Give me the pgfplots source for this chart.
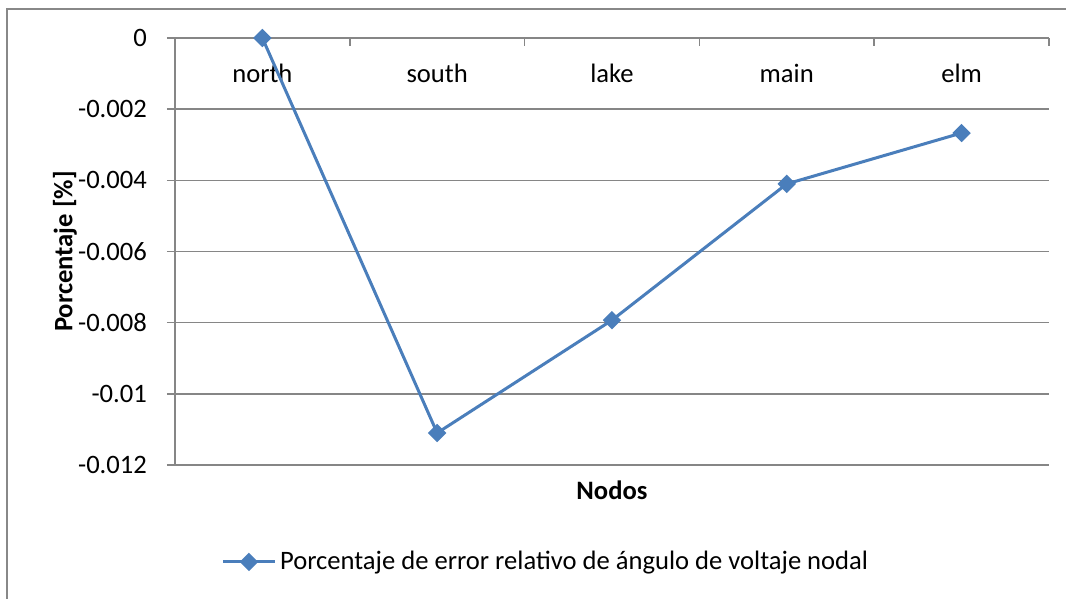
\documentclass[border=0pt]{standalone}
\usepackage{fontspec}
\setmainfont{Carlito}
\usepackage{pgfplots}
\pgfplotsset{compat=1.18}
\definecolor{lineblue}{HTML}{4A7EBB}
\definecolor{gridgray}{HTML}{868686}
\definecolor{framegray}{HTML}{888888}
\begin{document}
\begin{tikzpicture}[font=\fontsize{13.3}{16}\selectfont]
\begin{axis}[
  scale only axis,
  width=437pt, height=213.5pt,
  xmin=-0.5, xmax=4.5,
  ymin=-0.012, ymax=0,
  clip=false,
  scaled y ticks=false,
  axis x line*=top,
  axis y line*=left,
  axis line style={gridgray, line width=0.75pt, -},
  tick align=inside,
  major tick length=4pt,
  xtick={-0.5,0.5,1.5,2.5,3.5,4.5},
  xticklabels={},
  extra x ticks={0,1,2,3,4},
  extra x tick labels={north,south,lake,main,elm},
  extra x tick style={major tick length=0pt, grid=none,
     xticklabel style={anchor=center, yshift=-17.5pt}},
  x tick style={gridgray, line width=0.75pt},
  ytick={-0.012,-0.010,-0.008,-0.006,-0.004,-0.002,0},
  yticklabels={-0.012,-0.01,-0.008,-0.006,-0.004,-0.002,0},
  y tick style={gridgray, line width=0.75pt, xshift=-4pt},
  yticklabel style={anchor=east, xshift=-10.5pt},
  ymajorgrids,
  grid style={gridgray, line width=0.75pt, xshift=0pt},
  ylabel={\bfseries Porcentaje [\%]},
  xlabel={\bfseries Nodos},
  every axis y label/.style={at={(axis description cs:-0.1259,0.5)}, rotate=90, anchor=center},
  every axis x label/.style={at={(axis description cs:0.5,-0.0585)}, anchor=center},
  legend style={draw=none, fill=none, at={(axis description cs:0.4256,-0.227)}, anchor=center, inner sep=0pt},
  legend image code/.code={\draw[mark repeat=2,mark phase=2] plot coordinates {(0cm,0cm) (0.45cm,0cm) (0.9cm,0cm)};},
]
\addplot[color=lineblue, line width=1.5pt, mark=square*, mark size=2.5pt, mark options={rotate=45, solid}]
  coordinates {(0,0) (1,-0.0111) (2,-0.00793) (3,-0.0041) (4,-0.00267)};
\addlegendentry{Porcentaje de error relativo de ángulo de voltaje nodal}
\coordinate (BBL) at (axis description cs:-0.2002,-0.3138);
\coordinate (BTR) at (axis description cs:1.0195,1.0890);
\coordinate (FBL) at (axis description cs:-0.1922,-0.4);
\coordinate (FTL) at (axis description cs:-0.1922,1.0679);
\coordinate (FTR) at (axis description cs:1.2,1.0679);
\end{axis}
\draw[framegray, line width=1pt] (FBL) -- (FTL) -- (FTR);
\pgfresetboundingbox
\path (BBL) rectangle (BTR);
\end{tikzpicture}
\end{document}
